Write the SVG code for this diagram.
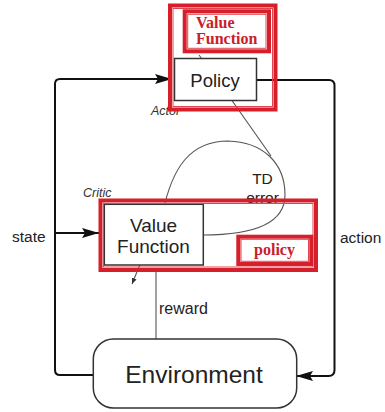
<svg xmlns="http://www.w3.org/2000/svg" width="385" height="412" viewBox="0 0 385 412">
<style>
.bg{fill:#fff}
.box{fill:#fff;stroke:#333;stroke-width:1.5}
.loop{fill:none;stroke:#111;stroke-width:2}
.thin{fill:none;stroke:#555;stroke-width:1.1}
.red{fill:none;stroke:#d61f2b;stroke-width:4}
.redthin{fill:none;stroke:#e0464f;stroke-width:1}
.t{font-family:"Liberation Sans",Arial,sans-serif;fill:#222}
.it{font-family:"Liberation Sans",Arial,sans-serif;font-style:italic;fill:#333;font-size:12.5px}
.rt{font-family:"Liberation Serif","Times New Roman",serif;font-weight:bold;fill:#c8202b;font-size:16px}
</style>
<defs>
<marker id="arr" markerUnits="userSpaceOnUse" markerWidth="17" markerHeight="10" viewBox="0 0 17 10" refX="17" refY="5" orient="auto">
<path d="M0,0 L17,5 L0,10 L3,5 z" fill="#111"/>
</marker>
<marker id="arrs" markerUnits="userSpaceOnUse" markerWidth="6" markerHeight="5" viewBox="0 0 6 5" refX="6" refY="2.5" orient="auto">
<path d="M0,0 L6,2.5 L0,5 z" fill="#333"/>
</marker>
</defs>
<rect class="bg" x="0" y="0" width="385" height="412"/>

<g id="connectors">
<path class="loop" d="M93,375 L60,375 Q55,375 55,370 L55,84 Q55,79 60,79 L172,79" marker-end="url(#arr)"/>
<path class="loop" d="M55,233 L99,233" marker-end="url(#arr)"/>
<path class="loop" d="M257,80 L329,80 Q334.5,80 334.5,85.5 L334.5,370 Q334.5,376 328.5,376 L296,376" marker-end="url(#arr)"/>
<path class="thin" d="M163,212 C172,168 190,141 228,141 C262,142 285,162 285,195 C285,225 250,235 203,235"/>
<path class="thin" d="M226,92 L271,156"/>
<path class="thin" d="M199,55 L208,67"/>
<path class="thin" d="M141,262 L132,284" marker-end="url(#arrs)"/>
<path class="thin" d="M156,268 L156,340" stroke="#666" stroke-width="1.2"/>
</g>

<g id="actor">
<text class="it" x="151" y="115">Actor</text>
<rect class="box" x="174.5" y="58.5" width="82" height="42"/>
<text class="t" x="215" y="87" font-size="18.5" text-anchor="middle">Policy</text>
</g>

<g id="actor-highlight">
<rect class="red" x="170" y="5.5" width="105.5" height="104"/>
<rect class="redthin" x="173" y="8.5" width="99.5" height="98"/>
<rect class="red" x="184.7" y="11.3" width="84.3" height="40"/>
<rect class="redthin" x="187.7" y="14.3" width="78.3" height="34"/>
<text class="rt" x="196" y="28">Value</text>
<text class="rt" x="196" y="44">Function</text>
</g>

<g id="td-error">
<text class="t" x="262.5" y="184" font-size="15.5" text-anchor="middle">TD</text>
<text class="t" x="262.5" y="203" font-size="15.5" text-anchor="middle">error</text>
</g>

<g id="critic">
<text class="it" x="83" y="197">Critic</text>
<rect class="box" x="104.3" y="204.3" width="99" height="60.7"/>
<text class="t" x="153.5" y="232" font-size="19" text-anchor="middle">Value</text>
<text class="t" x="153.5" y="253" font-size="19" text-anchor="middle">Function</text>
</g>

<g id="critic-highlight">
<rect class="red" x="100.5" y="200.5" width="215.5" height="69.5"/>
<rect class="redthin" x="103.5" y="203.5" width="209.5" height="63.5"/>
<rect class="red" x="238.3" y="236.7" width="73" height="27.3" stroke-width="3"/>
<rect class="redthin" x="241" y="239.3" width="67.5" height="22"/>
<text class="rt" x="274.5" y="255" text-anchor="middle">policy</text>
</g>

<g id="environment">
<rect class="box" x="93.3" y="339" width="203.4" height="69" rx="20" ry="20"/>
<text class="t" x="194" y="383" font-size="24.5" text-anchor="middle">Environment</text>
</g>

<g id="labels">
<text class="t" x="12" y="241.5" font-size="15.5">state</text>
<text class="t" x="340" y="243" font-size="15.5">action</text>
<text class="t" x="159" y="314" font-size="16">reward</text>
</g>
</svg>
